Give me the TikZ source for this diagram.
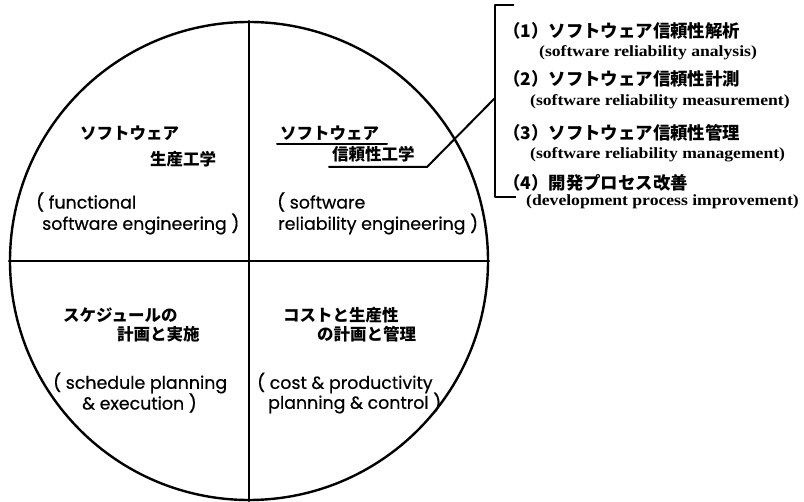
\documentclass[tikz,border=0pt]{standalone}
\usepackage{fontspec}
\newfontfamily\jp{Noto Sans CJK JP}
\newfontfamily\en{Poppins}[FakeBold=0.6]
\newfontfamily\sr{Liberation Serif}[FakeStretch=1.13]
\begin{document}
\begin{tikzpicture}[x=1pt,y=-1pt,
  jpq/.style={anchor=west, inner sep=0pt, font=\jp\bfseries\fontsize{16.5}{16.5}\selectfont},
  enq/.style={anchor=west, inner sep=0pt, font=\en\fontsize{17.4}{17.4}\selectfont},
  jpl/.style={anchor=west, inner sep=0pt, font=\jp\bfseries\fontsize{17.4}{17.4}\selectfont},
  enl/.style={anchor=west, inner sep=0pt, font=\sr\bfseries\fontsize{15.6}{15.6}\selectfont},
  ln/.style={line width=2pt, line cap=round, line join=round}]
\useasboundingbox (0,0) rectangle (804,502);
% circle and quadrants
\node[circle, draw, line width=2.4pt, minimum size=478pt, inner sep=0pt] (c) at (249,261) {};
\draw[ln] (c.north) -- (c.south);
\draw[ln] (c.west) -- (c.east);
% top-left
\node[jpq] (tl1) at (80,133) {ソフトウェア};
\node[jpq] (tl2) at (150,159) {生産工学};
\node[enq] (tl3) at (36,202) {( functional};
\node[enq] (tl4) at (42,224) {software engineering )};
% top-right
\node[jpq] (tr1) at (280,133) {ソフトウェア};
\node[jpq] (tr2) at (332,154) {信頼性工学};
\node[enq] (tr3) at (277,202) {( software};
\node[enq] (tr4) at (278,224) {reliability engineering )};
% bottom-left
\node[jpq] (bl1) at (63,315) {スケジュールの};
\node[jpq] (bl2) at (117,334) {計画と実施};
\node[enq] (bl3) at (53,383) {( schedule planning};
\node[enq] (bl4) at (82,403) {\&\ execution )};
% bottom-right
\node[jpq] (br1) at (283,315) {コストと生産性};
\node[jpq] (br2) at (317,334) {の計画と管理};
\node[enq] (br3) at (257,383) {( cost \&\ productivity};
\node[enq] (br4) at (268,403) {planning \&\ control )};
% underlines and connector
\coordinate (u1a) at (277,144);
\coordinate (u1b) at (387,144);
\coordinate (u2a) at (329,167);
\coordinate (u2b) at (427,167);
\coordinate (bj) at (495,98);
\draw[ln] (u1a) -- (u1b);
\draw[ln] (u2a) -- (u2b) -- (bj);
% bracket
\coordinate (bt) at (514,5);
\coordinate (btl) at (495,5);
\coordinate (bbl) at (495,197);
\coordinate (bb) at (516,197);
\draw[ln, line cap=butt] (bt) -- (btl) -- (bbl) -- (bb);
% list
\node[jpl] (l1) at (503,31) {（1）ソフトウェア信頼性解析};
\node[enl] (e1) at (539,53) {(software reliability analysis)};
\node[jpl] (l2) at (503,79) {（2）ソフトウェア信頼性計測};
\node[enl] (e2) at (530,102) {(software reliability measurement)};
\node[jpl] (l3) at (503,133) {（3）ソフトウェア信頼性管理};
\node[enl] (e3) at (530,155) {(software reliability management)};
\node[jpl] (l4) at (503,183) {（4）開発プロセス改善};
\node[enl] (e4) at (526,202) {(development process improvement)};
\end{tikzpicture}
\end{document}
